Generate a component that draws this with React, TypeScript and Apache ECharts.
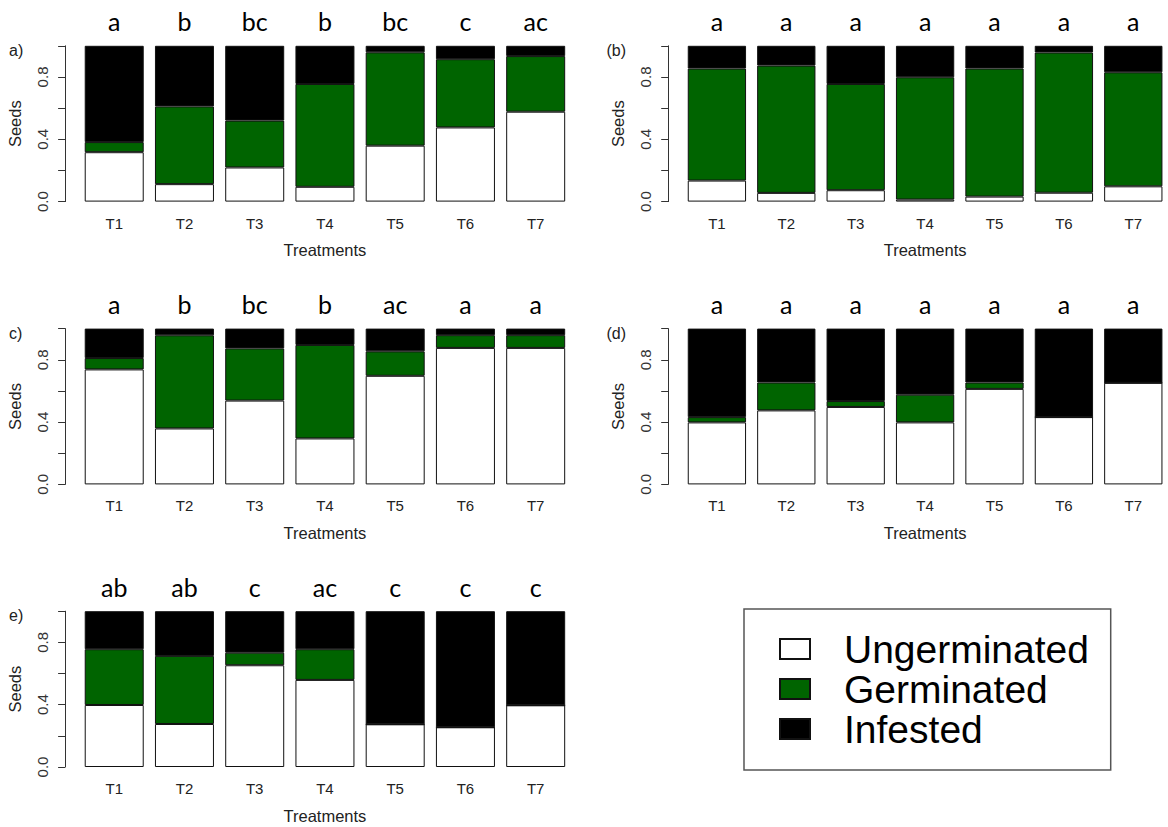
import React, { useEffect, useRef } from 'react';
import * as echarts from 'echarts';

// ---------- data ----------
const treatments = ['T1', 'T2', 'T3', 'T4', 'T5', 'T6', 'T7'];
const seriesNames = ['Ungerminated', 'Germinated', 'Infested'];
const yTickLabels = ['0.0', '0.4', '0.8'];

const ungerminatedA = [0.317, 0.112, 0.219, 0.095, 0.359, 0.476, 0.577];
const germinatedA = [0.065, 0.499, 0.301, 0.66, 0.599, 0.438, 0.357];
const infestedA = [0.618, 0.389, 0.48, 0.245, 0.042, 0.086, 0.066];
const lettersA = ['a', 'b', 'bc', 'b', 'bc', 'c', 'ac'];

const ungerminatedB = [0.135, 0.056, 0.073, 0.013, 0.032, 0.057, 0.098];
const germinatedB = [0.719, 0.817, 0.682, 0.785, 0.822, 0.9, 0.732];
const infestedB = [0.146, 0.127, 0.245, 0.202, 0.146, 0.043, 0.17];
const lettersB = ['a', 'a', 'a', 'a', 'a', 'a', 'a'];

const ungerminatedC = [0.738, 0.359, 0.538, 0.295, 0.697, 0.876, 0.876];
const germinatedC = [0.073, 0.598, 0.335, 0.6, 0.157, 0.082, 0.082];
const infestedC = [0.189, 0.043, 0.127, 0.105, 0.146, 0.042, 0.042];
const lettersC = ['a', 'b', 'bc', 'b', 'ac', 'a', 'a'];

const ungerminatedD = [0.398, 0.475, 0.497, 0.398, 0.613, 0.432, 0.652];
const germinatedD = [0.034, 0.179, 0.038, 0.178, 0.041, 0, 0];
const infestedD = [0.568, 0.346, 0.465, 0.424, 0.346, 0.568, 0.348];
const lettersD = ['a', 'a', 'a', 'a', 'a', 'a', 'a'];

const ungerminatedE = [0.398, 0.276, 0.653, 0.559, 0.274, 0.255, 0.396];
const germinatedE = [0.358, 0.437, 0.081, 0.197, 0, 0, 0];
const infestedE = [0.244, 0.287, 0.266, 0.244, 0.726, 0.745, 0.604];
const lettersE = ['ab', 'ab', 'c', 'ac', 'c', 'c', 'c'];

const panelLabels = ['a)', '(b)', 'c)', '(d)', 'e)'];

// ---------- layout / style ----------
const FONT = '"Liberation Sans", Arial, sans-serif';
const LETTER_FONT = 'Lato, "Open Sans", sans-serif';
const COLORS = ['#ffffff', '#006400', '#000000'];
const GRID_W = 491.7;
const GRID_H = 155.8;
const COL_LEFT = [79.1, 682.2];
const ROW_TOP = [45.8, 328.6, 611.2];
const LABEL_X = [9, 606.5];

const panels = [
  { ung: ungerminatedA, germ: germinatedA, inf: infestedA, letters: lettersA, col: 0, row: 0 },
  { ung: ungerminatedB, germ: germinatedB, inf: infestedB, letters: lettersB, col: 1, row: 0 },
  { ung: ungerminatedC, germ: germinatedC, inf: infestedC, letters: lettersC, col: 0, row: 1 },
  { ung: ungerminatedD, germ: germinatedD, inf: infestedD, letters: lettersD, col: 1, row: 1 },
  { ung: ungerminatedE, germ: germinatedE, inf: infestedE, letters: lettersE, col: 0, row: 2 },
];

function buildOption() {
  const grid = panels.map((p) => ({
    left: COL_LEFT[p.col],
    top: ROW_TOP[p.row],
    width: GRID_W,
    height: GRID_H,
  }));

  const xAxis = panels.map((_, i) => ({
    type: 'category',
    gridIndex: i,
    data: treatments,
    axisLine: { show: false },
    axisTick: { show: false },
    axisLabel: { margin: 14, fontSize: 15, color: '#222', fontFamily: FONT },
    name: 'Treatments',
    nameLocation: 'middle',
    nameGap: 40,
    nameTextStyle: { fontSize: 16.5, color: '#222', fontFamily: FONT },
  }));

  const yAxis = panels.map((_, i) => ({
    type: 'value',
    gridIndex: i,
    min: 0,
    max: 1,
    interval: 0.2,
    offset: 14,
    splitLine: { show: false },
    axisLine: { show: true, lineStyle: { color: '#333', width: 1 } },
    axisTick: { show: true, length: 7, lineStyle: { color: '#333', width: 1 } },
    axisLabel: {
      rotate: 90,
      margin: 15,
      fontSize: 15,
      color: '#333',
      fontFamily: FONT,
      formatter: (v: number) => {
        const s = v.toFixed(1);
        return yTickLabels.indexOf(s) >= 0 ? s : '';
      },
    },
    name: 'Seeds',
    nameLocation: 'middle',
    nameGap: 42,
    nameRotate: 90,
    nameTextStyle: { fontSize: 16.5, color: '#222', fontFamily: FONT },
  }));

  const series: any[] = [];
  panels.forEach((p, i) => {
    const values = [p.ung, p.germ, p.inf];
    seriesNames.forEach((name, k) => {
      const s: any = {
        type: 'bar',
        name,
        xAxisIndex: i,
        yAxisIndex: i,
        stack: 'panel' + i,
        data: values[k],
        barCategoryGap: '16%',
        itemStyle: { color: COLORS[k], borderColor: '#111', borderWidth: 1 },
        emphasis: { disabled: true },
      };
      if (k === 2) {
        s.label = {
          show: true,
          position: 'top',
          distance: 12,
          fontSize: 25,
          fontFamily: LETTER_FONT,
          color: '#000',
          formatter: (q: any) => p.letters[q.dataIndex],
        };
      }
      series.push(s);
    });
  });

  const graphic: any[] = panels.map((p, i) => ({
    type: 'text',
    x: LABEL_X[p.col],
    y: ROW_TOP[p.row] + 4.5,
    style: {
      text: panelLabels[i],
      fontSize: 16,
      fontFamily: FONT,
      fill: '#222',
      verticalAlign: 'middle',
      textVerticalAlign: 'middle',
    },
  }));
  graphic.push({
    type: 'rect',
    shape: { x: 744, y: 609, width: 366.7, height: 161 },
    style: { fill: 'none', stroke: '#555', lineWidth: 1.5 },
  });

  return {
    animation: false,
    backgroundColor: '#ffffff',
    grid,
    xAxis,
    yAxis,
    series,
    graphic,
    legend: {
      data: seriesNames,
      orient: 'vertical',
      left: 779,
      top: 629,
      padding: 0,
      itemWidth: 30,
      itemHeight: 20,
      itemGap: 0,
      icon: 'rect',
      selectedMode: false,
      textStyle: {
        fontSize: 39,
        lineHeight: 40,
        fontFamily: FONT,
        color: '#000',
        padding: [0, 0, 0, 29],
      },
    },
  };
}

export default function App() {
  const ref = useRef<HTMLDivElement>(null);
  useEffect(() => {
    if (!ref.current) return;
    const chart = echarts.init(ref.current, undefined, { renderer: 'svg' });
    chart.setOption(buildOption() as any);
    return () => chart.dispose();
  }, []);
  return (
    <div
      ref={ref}
      style={{ position: 'absolute', left: 0, top: 0, width: 1168, height: 827, background: '#fff' }}
    />
  );
}
